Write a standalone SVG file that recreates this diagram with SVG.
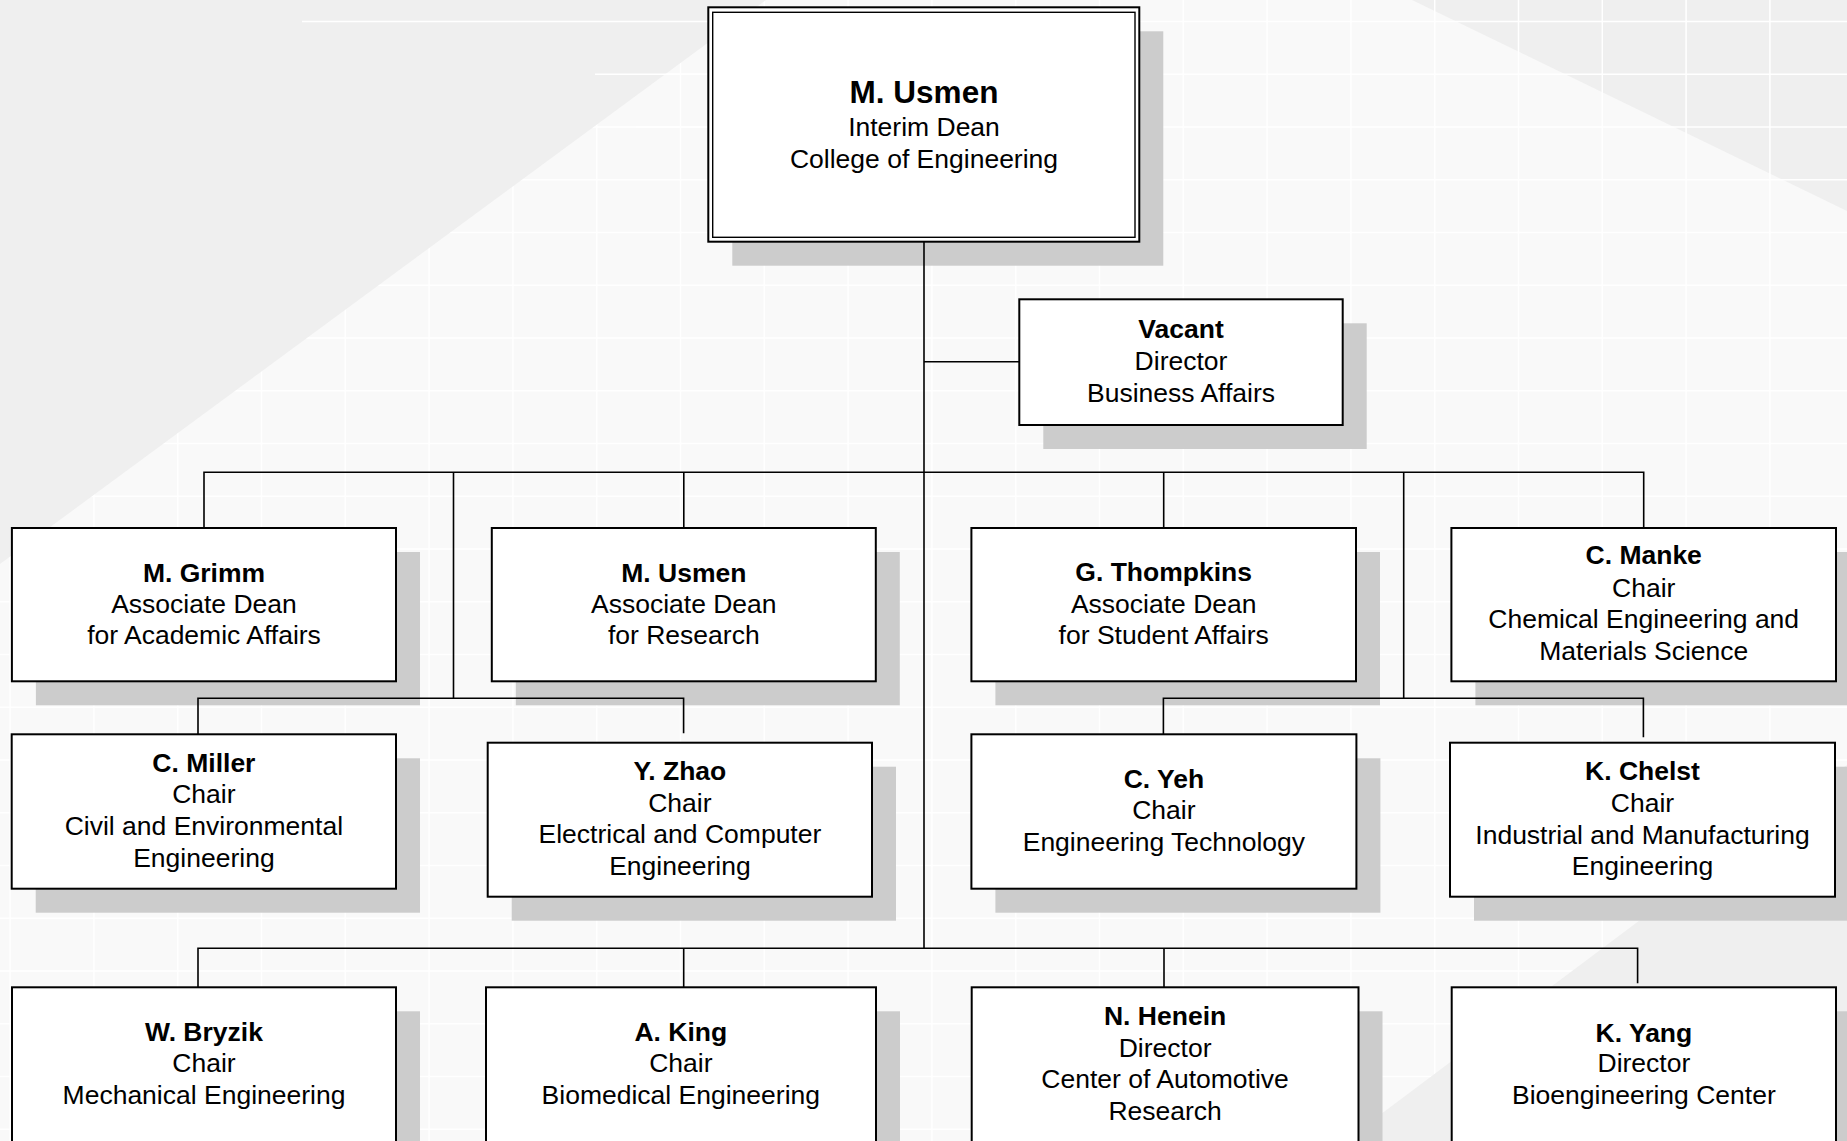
<svg xmlns="http://www.w3.org/2000/svg" width="1847" height="1141" viewBox="0 0 1847 1141">
<defs>
<style>
.bgl{fill:#f9f9f9}
.bgd{fill:#efefef}
.grid{stroke:#ffffff;stroke-width:1.5;fill:none}
.shadow{fill:#cccccc}
.box{fill:#ffffff;stroke:#000000;stroke-width:2}
.conn{stroke:#000000;stroke-width:1.6;fill:none}
text{font-family:"Liberation Sans",Arial,sans-serif;font-size:26.5px;fill:#000000;text-anchor:middle}
.n{font-weight:bold}
.big{font-size:31.5px}
</style>
</defs>
<g id="background">
<rect class="bgl" x="0" y="0" width="1847" height="1141"/>
<polygon class="bgd" points="1412,0 1847,0 1847,211"/>
<path class="grid" d="M10.1 0V1141M93.9 0V1141M177.7 0V1141M261.5 0V1141M345.3 0V1141M429.1 0V1141M512.9 0V1141M596.7 0V1141M680.5 0V1141M764.3 0V1141M848.1 0V1141M931.9 0V1141M1015.7 0V1141M1099.5 0V1141M1183.3 0V1141M1267.1 0V1141M1350.9 0V1141M1434.7 0V1141M1518.5 0V1141M1602.3 0V1141M1686.1 0V1141M1769.9 0V1141M0 21.4H1847M0 74.2H1847M0 126.9H1847M0 179.7H1847M0 232.4H1847M0 285.2H1847M0 337.9H1847M0 390.7H1847M0 443.4H1847M0 496.2H1847M0 548.9H1847M0 601.7H1847M0 654.4H1847M0 707.2H1847M0 759.9H1847M0 812.7H1847M0 865.4H1847M0 918.2H1847M0 970.9H1847M0 1023.7H1847M0 1076.4H1847M0 1129.2H1847"/>
<polygon class="bgd" points="0,0 766,0 0,564"/>
<polygon class="bgd" points="1345,1141 1847,765 1847,1141"/>
<path class="grid" d="M302 21.4H766M595 74.2H766M636 126.9H766"/>
</g>
<g id="node-dean">
<rect class="shadow" x="732.3" y="31.3" width="431" height="234.4"/>
<rect class="box" x="708.3" y="7.3" width="431" height="234.4" stroke-width="2.4"/>
<rect x="712.7" y="12.3" width="422.3" height="225" fill="none" stroke="#000" stroke-width="1.4"/>
<text class="n big" x="924" y="103.3">M. Usmen</text>
<text x="924" y="136">Interim Dean</text>
<text x="924" y="168.3">College of Engineering</text>
</g>
<g id="node-vacant">
<rect class="shadow" x="1043.3" y="323.3" width="323.4" height="125.7"/>
<rect class="box" x="1019.3" y="299.3" width="323.4" height="125.7"/>
<text class="n" x="1181" y="337.7">Vacant</text>
<text x="1181" y="370">Director</text>
<text x="1181" y="401.7">Business Affairs</text>
</g>
<g id="node-grimm">
<rect class="shadow" x="35.9" y="552" width="384.1" height="153.3"/>
<rect class="box" x="11.9" y="528" width="384.1" height="153.3"/>
<text class="n" x="204" y="581.7">M. Grimm</text>
<text x="204" y="612.7">Associate Dean</text>
<text x="204" y="644">for Academic Affairs</text>
</g>
<g id="node-usmen-research">
<rect class="shadow" x="515.8" y="552" width="384" height="153.3"/>
<rect class="box" x="491.8" y="528" width="384" height="153.3"/>
<text class="n" x="683.8" y="581.7">M. Usmen</text>
<text x="683.8" y="612.7">Associate Dean</text>
<text x="683.8" y="644">for Research</text>
</g>
<g id="node-thompkins">
<rect class="shadow" x="995.4" y="552" width="384.6" height="153.3"/>
<rect class="box" x="971.4" y="528" width="384.6" height="153.3"/>
<text class="n" x="1163.7" y="581">G. Thompkins</text>
<text x="1163.7" y="612.7">Associate Dean</text>
<text x="1163.7" y="644">for Student Affairs</text>
</g>
<g id="node-manke">
<rect class="shadow" x="1475.4" y="552" width="384.6" height="153.3"/>
<rect class="box" x="1451.4" y="528" width="384.6" height="153.3"/>
<text class="n" x="1643.7" y="564.3">C. Manke</text>
<text x="1643.7" y="596.7">Chair</text>
<text x="1643.7" y="628.3">Chemical Engineering and</text>
<text x="1643.7" y="660">Materials Science</text>
</g>
<g id="node-miller">
<rect class="shadow" x="35.7" y="758.3" width="384.3" height="154.4"/>
<rect class="box" x="11.7" y="734.3" width="384.3" height="154.4"/>
<text class="n" x="203.9" y="771.5">C. Miller</text>
<text x="203.9" y="803.2">Chair</text>
<text x="203.9" y="834.9">Civil and Environmental</text>
<text x="203.9" y="866.6">Engineering</text>
</g>
<g id="node-zhao">
<rect class="shadow" x="511.7" y="766.7" width="384.3" height="154"/>
<rect class="box" x="487.7" y="742.7" width="384.3" height="154"/>
<text class="n" x="679.9" y="780">Y. Zhao</text>
<text x="679.9" y="811.7">Chair</text>
<text x="679.9" y="843.3">Electrical and Computer</text>
<text x="679.9" y="875">Engineering</text>
</g>
<g id="node-yeh">
<rect class="shadow" x="995.4" y="758.3" width="385" height="154.4"/>
<rect class="box" x="971.4" y="734.3" width="385" height="154.4"/>
<text class="n" x="1163.9" y="787.5">C. Yeh</text>
<text x="1163.9" y="819">Chair</text>
<text x="1163.9" y="850.6">Engineering Technology</text>
</g>
<g id="node-chelst">
<rect class="shadow" x="1474" y="766.7" width="385" height="154"/>
<rect class="box" x="1450" y="742.7" width="385" height="154"/>
<text class="n" x="1642.5" y="780">K. Chelst</text>
<text x="1642.5" y="811.5">Chair</text>
<text x="1642.5" y="843.5">Industrial and Manufacturing</text>
<text x="1642.5" y="875">Engineering</text>
</g>
<g id="node-bryzik">
<rect class="shadow" x="36" y="1011.3" width="384" height="160"/>
<rect class="box" x="12" y="987.3" width="384" height="160"/>
<text class="n" x="204" y="1040.5">W. Bryzik</text>
<text x="204" y="1072">Chair</text>
<text x="204" y="1103.5">Mechanical Engineering</text>
</g>
<g id="node-king">
<rect class="shadow" x="510" y="1011.3" width="390" height="160"/>
<rect class="box" x="486" y="987.3" width="390" height="160"/>
<text class="n" x="680.8" y="1040.5">A. King</text>
<text x="680.8" y="1072">Chair</text>
<text x="680.8" y="1103.5">Biomedical Engineering</text>
</g>
<g id="node-henein">
<rect class="shadow" x="995.7" y="1011.3" width="386.8" height="160"/>
<rect class="box" x="971.7" y="987.3" width="386.8" height="160"/>
<text class="n" x="1165.1" y="1024.8">N. Henein</text>
<text x="1165.1" y="1056.5">Director</text>
<text x="1165.1" y="1088.2">Center of Automotive</text>
<text x="1165.1" y="1119.8">Research</text>
</g>
<g id="node-yang">
<rect class="shadow" x="1475.7" y="1011.3" width="384.3" height="160"/>
<rect class="box" x="1451.7" y="987.3" width="384.3" height="160"/>
<text class="n" x="1643.9" y="1041.5">K. Yang</text>
<text x="1643.9" y="1072.3">Director</text>
<text x="1643.9" y="1104">Bioengineering Center</text>
</g>
<g id="connectors">
<path class="conn" d="M924 241.7V948.3"/>
<path class="conn" d="M924 361.7H1019.3"/>
<path class="conn" d="M204 528V472.3H1643.7V528M683.8 472.3V528M1163.7 472.3V528"/>
<path class="conn" d="M453.5 472.3V698.3M198 734.3V698.3H683.6V733.3"/>
<path class="conn" d="M1403.7 472.3V698.3M1163.4 734.3V698.3H1643.4V737.3"/>
<path class="conn" d="M198 987.3V948.3H1637.6V983.3M683.7 948.3V987.3M1164 948.3V987.3"/>
</g>
</svg>
